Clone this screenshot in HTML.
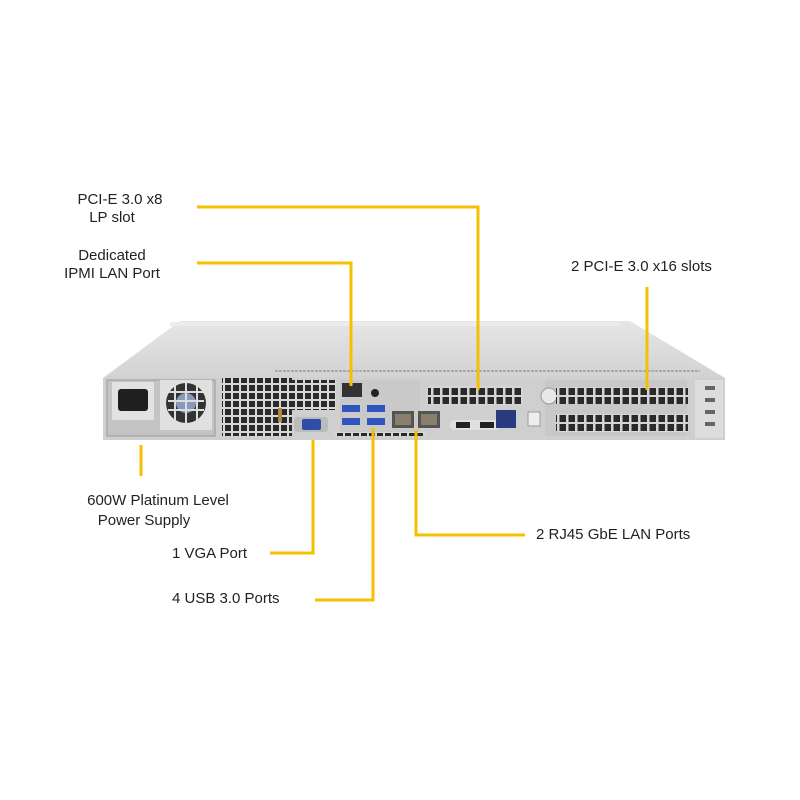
<!DOCTYPE html>
<html><head><style>
body{margin:0;background:#fff;}
svg{display:block;}
text{font-family:"Liberation Sans",Arial,sans-serif;font-size:15px;fill:#222;}
</style></head><body>
<svg width="800" height="800" viewBox="0 0 800 800">
<defs>
<pattern id="g" width="8" height="8" patternUnits="userSpaceOnUse"><rect width="8" height="8" fill="#d8d8d8"/><rect x="1" y="1" width="6" height="6" fill="#2a2a2a"/></pattern>
<pattern id="g2" width="9" height="9" patternUnits="userSpaceOnUse"><rect width="9" height="9" fill="#d5d5d5"/><rect x="1.5" y="1" width="6.5" height="7" fill="#2a2a2a"/></pattern>
<linearGradient id="top" x1="0" y1="0" x2="0" y2="1"><stop offset="0" stop-color="#e6e6e6"/><stop offset="1" stop-color="#d2d2d2"/></linearGradient>
</defs>
<!-- top surface -->
<polygon points="103,378 180,321 630,321 725,378" fill="url(#top)"/>
<rect x="170" y="322" width="450" height="4" fill="#ececec"/>
<line x1="275" y1="371" x2="700" y2="371" stroke="#aaa" stroke-width="2" stroke-dasharray="3 1"/>
<!-- back face -->
<rect x="103" y="378" width="622" height="62" fill="#cfcfcf"/>
<rect x="107" y="380" width="108" height="56" fill="#c4c4c4" stroke="#999"/>
<!-- PSU -->
<rect x="112" y="382" width="42" height="38" fill="#e2e2e2"/>
<rect x="118" y="389" width="30" height="22" fill="#1f1f1f" rx="3"/>
<rect x="160" y="380" width="52" height="50" fill="#e0e0e0"/>
<circle cx="186" cy="403" r="20" fill="#333"/>
<circle cx="186" cy="403" r="10" fill="#8899bb"/>
<path d="M168 392H204M168 401H204M168 410H204M175 385V421M186 383V423M197 385V421" stroke="#ddd" stroke-width="2"/>
<rect x="222" y="378" width="70" height="58" fill="url(#g)"/>
<rect x="292" y="380" width="44" height="30" fill="url(#g)"/>
<rect x="278" y="408" width="4" height="14" fill="#b08a40"/>
<!-- VGA -->
<rect x="294" y="417" width="34" height="15" rx="4" fill="#bbb"/>
<rect x="302" y="419" width="19" height="11" rx="2" fill="#2e4fa8"/>
<!-- IO -->
<rect x="340" y="380" width="80" height="56" fill="#c9c9c9"/>
<rect x="342" y="383" width="20" height="14" fill="#333"/>
<circle cx="375" cy="393" r="4" fill="#222"/>
<rect x="342" y="405" width="18" height="7" fill="#2e55c0"/>
<rect x="342" y="418" width="18" height="7" fill="#2e55c0"/>
<rect x="367" y="405" width="18" height="7" fill="#2e55c0"/>
<rect x="367" y="418" width="18" height="7" fill="#2e55c0"/>
<rect x="392" y="411" width="22" height="17" fill="#555"/>
<rect x="418" y="411" width="22" height="17" fill="#555"/>
<rect x="395" y="414" width="16" height="11" fill="#8a7f6a"/>
<rect x="421" y="414" width="16" height="11" fill="#8a7f6a"/>
<rect x="335" y="432" width="90" height="4" fill="url(#g)"/>
<!-- x8 slot -->
<rect x="428" y="386" width="95" height="19" fill="url(#g2)"/>
<rect x="450" y="420" width="50" height="10" rx="4" fill="#e0e0e0"/>
<rect x="456" y="422" width="14" height="6" fill="#222"/><rect x="480" y="422" width="14" height="6" fill="#222"/>
<rect x="496" y="410" width="20" height="18" fill="#2a3a80"/>
<rect x="528" y="412" width="12" height="14" fill="#eee" stroke="#999"/>
<!-- x16 slots -->
<rect x="545" y="380" width="142" height="56" fill="#c8c8c8"/>
<circle cx="549" cy="396" r="8" fill="#e8e8e8" stroke="#999"/>
<rect x="556" y="387" width="132" height="17" fill="url(#g2)"/>
<rect x="556" y="414" width="132" height="18" fill="url(#g2)"/>
<rect x="695" y="380" width="28" height="58" fill="#ddd"/>
<path d="M705 388h10M705 400h10M705 412h10M705 424h10" stroke="#666" stroke-width="4"/>
<!-- connectors -->
<g stroke="#f5c000" stroke-width="3" fill="none">
<polyline points="197,207 478,207 478,390"/>
<polyline points="197,263 351,263 351,386"/>
<polyline points="647,287 647,390"/>
<polyline points="141,445 141,476"/>
<polyline points="270,553 313,553 313,440"/>
<polyline points="315,600 373,600 373,428"/>
<polyline points="525,535 416,535 416,430"/>
</g>
<text x="120" y="204" text-anchor="middle">PCI-E 3.0 x8</text>
<text x="112" y="222" text-anchor="middle">LP slot</text>
<text x="112" y="260" text-anchor="middle">Dedicated</text>
<text x="112" y="278" text-anchor="middle">IPMI LAN Port</text>
<text x="571" y="271">2 PCI-E 3.0 x16 slots</text>
<text x="158" y="505" text-anchor="middle">600W Platinum Level</text>
<text x="144" y="525" text-anchor="middle">Power Supply</text>
<text x="172" y="558">1 VGA Port</text>
<text x="172" y="603">4 USB 3.0 Ports</text>
<text x="536" y="539">2 RJ45 GbE LAN Ports</text>
</svg>
</body></html>
